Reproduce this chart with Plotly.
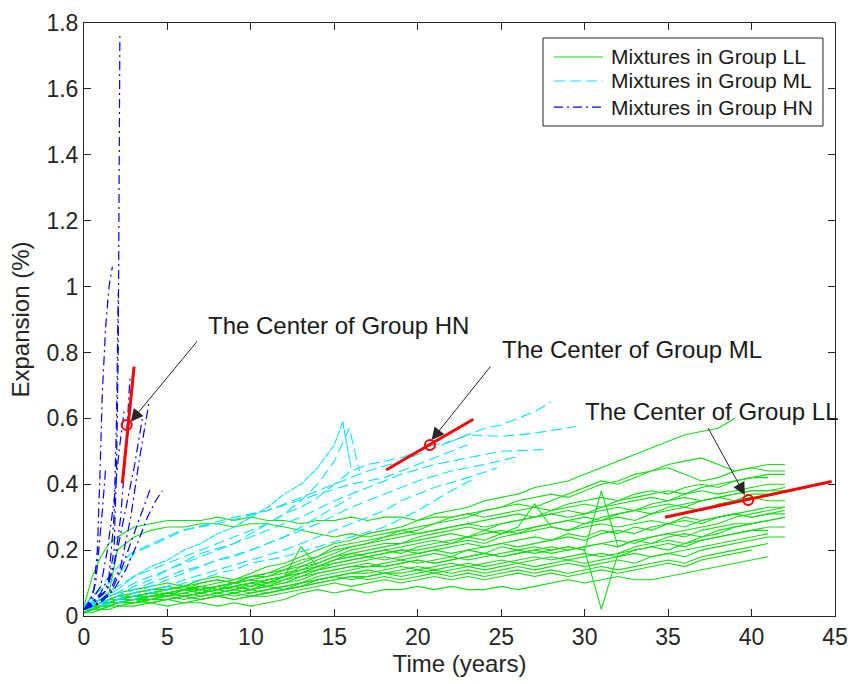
import plotly.graph_objects as go

# ---------------- data ----------------
X_TICKS = [0, 5, 10, 15, 20, 25, 30, 35, 40, 45]
Y_TICKS = [0, 0.2, 0.4, 0.6, 0.8, 1.0, 1.2, 1.4, 1.6, 1.8]
Y_TICK_TEXT = ["0", "0.2", "0.4", "0.6", "0.8", "1", "1.2", "1.4", "1.6", "1.8"]

# Group LL (green, solid) - shared time grid
LL_T = [0, 0.5, 1, 1.5, 2, 3, 4, 5, 6, 7, 8, 9, 10, 11, 12, 13, 14, 15, 16, 17, 18, 19, 20,
        21, 22, 23, 24, 25, 26, 27, 28, 29, 30, 31, 32, 33, 34, 35, 36, 37, 38, 39, 40, 41, 42]

ll_01 = [0.02, 0.04, 0.05, 0.06, 0.07, 0.08, 0.09, 0.10, 0.09, 0.11, 0.12, 0.11, 0.13, 0.15, 0.16,
         0.18, 0.20, 0.22, 0.23, 0.25, 0.26, 0.27, 0.29, 0.31, 0.32, 0.33, 0.35, 0.36, 0.37, 0.39,
         0.40, 0.41, 0.43, 0.45, 0.47, 0.49, 0.51, 0.53, 0.55, 0.56, 0.57, 0.60]
ll_02 = [0.01, 0.03, 0.04, 0.05, 0.05, 0.07, 0.08, 0.09, 0.08, 0.10, 0.11, 0.10, 0.12, 0.13, 0.15,
         0.17, 0.18, 0.21, 0.22, 0.23, 0.24, 0.26, 0.27, 0.28, 0.30, 0.31, 0.32, 0.33, 0.35, 0.36,
         0.37, 0.36, 0.38, 0.40, 0.41, 0.43, 0.44, 0.46, 0.47, 0.48, 0.46, 0.44, 0.45, 0.46, 0.46]
ll_03 = [0.02, 0.03, 0.03, 0.04, 0.05, 0.06, 0.07, 0.07, 0.08, 0.09, 0.10, 0.11, 0.12, 0.12, 0.14,
         0.15, 0.17, 0.19, 0.21, 0.22, 0.24, 0.25, 0.26, 0.28, 0.29, 0.30, 0.32, 0.33, 0.34, 0.33,
         0.35, 0.37, 0.39, 0.41, 0.40, 0.42, 0.44, 0.45, 0.43, 0.41, 0.42, 0.44, 0.45, 0.44, 0.44]
ll_04 = [0.03, 0.12, 0.18, 0.22, 0.24, 0.27, 0.28, 0.29, 0.29, 0.29, 0.30, 0.29, 0.30, 0.29, 0.29,
         0.28, 0.29, 0.29, 0.30, 0.29, 0.30, 0.30, 0.29, 0.30, 0.30, 0.31, 0.30, 0.31, 0.32, 0.33,
         0.32, 0.34, 0.35, 0.36, 0.35, 0.37, 0.38, 0.37, 0.39, 0.40, 0.39, 0.41, 0.42, 0.43, 0.43]
ll_05 = [0.02, 0.04, 0.05, 0.07, 0.20, 0.24, 0.26, 0.27, 0.27, 0.28, 0.28, 0.27, 0.28, 0.28, 0.27,
         0.26, 0.25, 0.24, 0.25, 0.24, 0.25, 0.26, 0.25, 0.26, 0.27, 0.28, 0.27, 0.28, 0.29, 0.30,
         0.31, 0.30, 0.31, 0.32, 0.33, 0.32, 0.34, 0.35, 0.36, 0.35, 0.36, 0.37, 0.38, 0.38, 0.39]
ll_06 = [0.01, 0.02, 0.03, 0.04, 0.05, 0.06, 0.06, 0.07, 0.08, 0.08, 0.09, 0.10, 0.09, 0.11, 0.12,
         0.14, 0.16, 0.18, 0.20, 0.21, 0.22, 0.22, 0.24, 0.25, 0.26, 0.27, 0.26, 0.28, 0.29, 0.30,
         0.31, 0.32, 0.31, 0.33, 0.34, 0.35, 0.36, 0.35, 0.37, 0.38, 0.37, 0.38, 0.39, 0.40, 0.40]
ll_07 = [0.02, 0.02, 0.03, 0.05, 0.05, 0.06, 0.07, 0.06, 0.08, 0.09, 0.08, 0.10, 0.11, 0.10, 0.12,
         0.13, 0.15, 0.17, 0.18, 0.19, 0.20, 0.21, 0.22, 0.23, 0.22, 0.24, 0.25, 0.26, 0.25, 0.27,
         0.28, 0.29, 0.30, 0.29, 0.31, 0.32, 0.33, 0.34, 0.33, 0.35, 0.36, 0.35, 0.37, 0.37]
ll_08 = [0.01, 0.02, 0.03, 0.03, 0.04, 0.05, 0.06, 0.07, 0.06, 0.07, 0.08, 0.09, 0.10, 0.09, 0.11,
         0.12, 0.14, 0.16, 0.17, 0.18, 0.19, 0.20, 0.20, 0.21, 0.22, 0.23, 0.22, 0.24, 0.25, 0.26,
         0.27, 0.26, 0.28, 0.29, 0.30, 0.29, 0.31, 0.32, 0.33, 0.32, 0.34, 0.35, 0.36, 0.35, 0.35]
ll_09 = [0.02, 0.03, 0.04, 0.04, 0.05, 0.06, 0.05, 0.07, 0.08, 0.07, 0.08, 0.09, 0.08, 0.10, 0.11,
         0.13, 0.14, 0.15, 0.16, 0.17, 0.18, 0.17, 0.18, 0.19, 0.18, 0.20, 0.19, 0.21, 0.20, 0.21,
         0.20, 0.21, 0.20, 0.38, 0.21, 0.23, 0.24, 0.25, 0.26, 0.27, 0.28, 0.30, 0.31, 0.32, 0.33]
ll_10 = [0.01, 0.02, 0.03, 0.04, 0.04, 0.05, 0.06, 0.06, 0.07, 0.08, 0.07, 0.08, 0.09, 0.10, 0.10,
         0.11, 0.13, 0.14, 0.15, 0.15, 0.16, 0.17, 0.16, 0.17, 0.18, 0.17, 0.18, 0.19, 0.20, 0.19,
         0.20, 0.21, 0.20, 0.02, 0.19, 0.21, 0.22, 0.23, 0.22, 0.24, 0.25, 0.27, 0.28, 0.29, 0.30]
ll_11 = [0.02, 0.03, 0.03, 0.05, 0.06, 0.06, 0.07, 0.08, 0.09, 0.08, 0.09, 0.10, 0.11, 0.12, 0.13,
         0.14, 0.15, 0.17, 0.19, 0.20, 0.21, 0.22, 0.23, 0.24, 0.25, 0.24, 0.26, 0.25, 0.27, 0.34,
         0.27, 0.26, 0.27, 0.28, 0.27, 0.28, 0.29, 0.28, 0.30, 0.29, 0.30, 0.31, 0.30, 0.31, 0.31]
ll_12 = [0.01, 0.02, 0.02, 0.03, 0.04, 0.04, 0.05, 0.06, 0.05, 0.06, 0.07, 0.06, 0.07, 0.08, 0.09,
         0.10, 0.12, 0.13, 0.14, 0.15, 0.15, 0.16, 0.17, 0.16, 0.17, 0.18, 0.19, 0.18, 0.19, 0.20,
         0.21, 0.20, 0.21, 0.22, 0.23, 0.22, 0.24, 0.25, 0.24, 0.26, 0.27, 0.28, 0.28, 0.29]
ll_13 = [0.02, 0.02, 0.03, 0.03, 0.04, 0.05, 0.05, 0.06, 0.07, 0.06, 0.07, 0.08, 0.07, 0.08, 0.09,
         0.10, 0.11, 0.12, 0.13, 0.13, 0.14, 0.15, 0.14, 0.15, 0.16, 0.15, 0.16, 0.17, 0.16, 0.17,
         0.18, 0.17, 0.18, 0.19, 0.18, 0.20, 0.21, 0.20, 0.22, 0.23, 0.24, 0.25, 0.26, 0.27, 0.27]
ll_14 = [0.01, 0.02, 0.03, 0.03, 0.04, 0.04, 0.05, 0.05, 0.06, 0.07, 0.06, 0.07, 0.08, 0.07, 0.08,
         0.09, 0.10, 0.11, 0.12, 0.12, 0.13, 0.13, 0.14, 0.13, 0.14, 0.15, 0.14, 0.15, 0.16, 0.15,
         0.16, 0.17, 0.16, 0.17, 0.18, 0.19, 0.18, 0.19, 0.20, 0.21, 0.22, 0.23, 0.24, 0.25]
ll_15 = [0.02, 0.03, 0.03, 0.04, 0.05, 0.05, 0.06, 0.07, 0.06, 0.07, 0.08, 0.07, 0.08, 0.09, 0.08,
         0.10, 0.11, 0.12, 0.11, 0.12, 0.13, 0.12, 0.13, 0.14, 0.13, 0.14, 0.13, 0.14, 0.15, 0.14,
         0.15, 0.16, 0.15, 0.16, 0.17, 0.16, 0.18, 0.19, 0.18, 0.20, 0.21, 0.22, 0.23, 0.24, 0.24]
ll_16 = [0.01, 0.02, 0.02, 0.03, 0.03, 0.04, 0.04, 0.05, 0.06, 0.05, 0.06, 0.05, 0.06, 0.07, 0.08,
         0.09, 0.10, 0.11, 0.12, 0.11, 0.12, 0.11, 0.12, 0.13, 0.12, 0.13, 0.12, 0.13, 0.14, 0.13,
         0.14, 0.13, 0.14, 0.15, 0.14, 0.15, 0.16, 0.17, 0.16, 0.18, 0.19, 0.20, 0.21, 0.22]
ll_17 = [0.01, 0.02, 0.03, 0.03, 0.04, 0.04, 0.05, 0.05, 0.04, 0.05, 0.06, 0.05, 0.06, 0.06, 0.07,
         0.08, 0.09, 0.10, 0.09, 0.10, 0.11, 0.10, 0.11, 0.12, 0.11, 0.12, 0.11, 0.12, 0.13, 0.12,
         0.13, 0.12, 0.13, 0.14, 0.13, 0.14, 0.15, 0.16, 0.15, 0.17, 0.18, 0.19, 0.20]
ll_18 = [0.01, 0.01, 0.02, 0.02, 0.03, 0.03, 0.04, 0.03, 0.04, 0.04, 0.03, 0.04, 0.03, 0.04, 0.05,
         0.07, 0.08, 0.07, 0.08, 0.07, 0.08, 0.08, 0.09, 0.08, 0.09, 0.08, 0.08, 0.09, 0.08, 0.09,
         0.10, 0.11, 0.10, 0.11, 0.12, 0.11, 0.11, 0.12, 0.13, 0.14, 0.15, 0.16, 0.17, 0.18]
ll_19 = [0.02, 0.03, 0.04, 0.04, 0.05, 0.06, 0.07, 0.08, 0.09, 0.08, 0.09, 0.10, 0.11, 0.10, 0.12,
         0.15, 0.16, 0.18, 0.19, 0.18, 0.19, 0.20, 0.19, 0.20, 0.21, 0.22, 0.21, 0.22, 0.23, 0.24,
         0.23, 0.25, 0.24, 0.26, 0.25, 0.27, 0.26, 0.28, 0.27, 0.29, 0.30, 0.31, 0.30, 0.31, 0.32]
ll_20 = [0.02, 0.03, 0.04, 0.05, 0.06, 0.07, 0.08, 0.08, 0.09, 0.10, 0.11, 0.10, 0.12, 0.13, 0.14,
         0.16, 0.18, 0.20, 0.21, 0.22, 0.23, 0.24, 0.25, 0.26, 0.27, 0.28, 0.29, 0.30, 0.31, 0.30,
         0.32, 0.33, 0.34, 0.33, 0.35, 0.36, 0.37, 0.38, 0.37, 0.39, 0.40, 0.41, 0.42, 0.42]
ll_21 = [0.01, 0.02, 0.03, 0.04, 0.04, 0.05, 0.06, 0.07, 0.06, 0.07, 0.08, 0.09, 0.08, 0.09, 0.10,
         0.12, 0.13, 0.14, 0.15, 0.16, 0.15, 0.16, 0.17, 0.16, 0.17, 0.18, 0.19, 0.18, 0.19, 0.20,
         0.19, 0.20, 0.21, 0.22, 0.21, 0.23, 0.22, 0.24, 0.25, 0.24, 0.26, 0.27, 0.28, 0.29, 0.30]
ll_22 = [0.02, 0.03, 0.04, 0.05, 0.05, 0.06, 0.07, 0.06, 0.08, 0.09, 0.08, 0.09, 0.10, 0.11, 0.12,
         0.21, 0.15, 0.16, 0.17, 0.18, 0.17, 0.18, 0.19, 0.20, 0.19, 0.20, 0.21, 0.22, 0.21, 0.22,
         0.23, 0.24, 0.23, 0.25, 0.26, 0.25, 0.27, 0.28, 0.29, 0.28, 0.30, 0.31, 0.32, 0.33, 0.33]
ll_23 = [0.02, 0.02, 0.03, 0.04, 0.05, 0.06, 0.06, 0.07, 0.08, 0.07, 0.09, 0.08, 0.10, 0.11, 0.12,
         0.13, 0.15, 0.17, 0.18, 0.19, 0.20, 0.19, 0.21, 0.22, 0.23, 0.24, 0.23, 0.25, 0.26, 0.27,
         0.28, 0.29, 0.28, 0.30, 0.31, 0.32, 0.31, 0.33, 0.34, 0.35, 0.36, 0.37, 0.38, 0.38, 0.38]
ll_24 = [0.01, 0.02, 0.02, 0.03, 0.04, 0.05, 0.04, 0.05, 0.06, 0.05, 0.06, 0.07, 0.06, 0.07, 0.08,
         0.09, 0.11, 0.12, 0.13, 0.14, 0.13, 0.14, 0.15, 0.14, 0.15, 0.16, 0.15, 0.16, 0.17, 0.18,
         0.17, 0.18, 0.19, 0.18, 0.19, 0.20, 0.21, 0.22, 0.21, 0.23, 0.24, 0.25, 0.26, 0.26]

# Group ML (cyan, dashed) - each with own times
ml_01_t = [0, 1, 2, 3, 4, 5, 6, 7, 8, 9, 10, 11, 12, 13, 14, 15, 15.5, 16.0]
ml_01_y = [0.02, 0.05, 0.08, 0.12, 0.15, 0.17, 0.20, 0.22, 0.25, 0.27, 0.30, 0.33, 0.37, 0.40, 0.45, 0.52, 0.59, 0.45]
ml_02_t = [0, 1, 2, 3, 4, 5, 6, 7, 8, 9, 10, 11, 12, 13, 14, 15, 16, 17, 18, 19, 20, 21, 22, 23, 24, 25, 26, 27, 28]
ml_02_y = [0.03, 0.06, 0.09, 0.12, 0.14, 0.16, 0.18, 0.20, 0.22, 0.24, 0.26, 0.28, 0.31, 0.33, 0.36, 0.40, 0.44,
           0.46, 0.47, 0.48, 0.50, 0.52, 0.53, 0.55, 0.57, 0.58, 0.60, 0.62, 0.65]
ml_03_t = [0, 0.5, 1, 2, 3, 6, 9, 11, 13, 15, 17, 19, 21, 23, 25, 27, 29.5]
ml_03_y = [0.03, 0.06, 0.08, 0.12, 0.19, 0.26, 0.30, 0.32, 0.36, 0.40, 0.44, 0.47, 0.51, 0.55, 0.545, 0.555, 0.575]
ml_04_t = [0, 1, 2, 3, 4, 5, 7, 9, 11, 13, 15, 17, 19, 21, 23, 25, 27.5]
ml_04_y = [0.02, 0.04, 0.06, 0.09, 0.11, 0.14, 0.19, 0.22, 0.26, 0.30, 0.35, 0.39, 0.43, 0.46, 0.48, 0.50, 0.505]
ml_05_t = [0, 1, 2, 3, 4, 5, 6, 8, 10, 12, 14, 16, 18, 20, 22, 24, 26]
ml_05_y = [0.02, 0.04, 0.05, 0.07, 0.09, 0.11, 0.13, 0.17, 0.20, 0.24, 0.28, 0.33, 0.37, 0.41, 0.44, 0.46, 0.484]
ml_06_t = [0, 1, 2, 3, 4, 5, 6, 8, 10, 12, 14, 16, 18, 19, 21, 23, 24.75]
ml_06_y = [0.02, 0.03, 0.05, 0.06, 0.08, 0.09, 0.11, 0.14, 0.17, 0.20, 0.24, 0.28, 0.32, 0.35, 0.39, 0.42, 0.449]
ml_07_t = [0, 1, 2, 3, 4, 5, 6, 7, 8, 9, 10, 12, 14, 16, 18, 20, 22, 23.5]
ml_07_y = [0.02, 0.03, 0.04, 0.05, 0.07, 0.08, 0.10, 0.11, 0.13, 0.14, 0.16, 0.18, 0.21, 0.24, 0.27, 0.32, 0.38, 0.42]
ml_08_t = [0, 0.7, 1.5, 2.8, 5.8, 8, 11, 14, 16, 18, 20, 22, 23]
ml_08_y = [0.03, 0.07, 0.12, 0.19, 0.26, 0.28, 0.32, 0.37, 0.40, 0.42, 0.46, 0.50, 0.52]
ml_09_t = [0, 1, 2, 3, 4, 5, 6, 7, 8, 9, 10, 11, 12, 13, 14, 15, 16]
ml_09_y = [0.02, 0.04, 0.06, 0.08, 0.10, 0.12, 0.14, 0.15, 0.17, 0.18, 0.20, 0.22, 0.24, 0.27, 0.30, 0.33, 0.36]
ml_10_t = [0, 1, 2, 3, 4, 5, 6, 7, 8, 9, 10, 11, 12, 13, 14, 15, 15.9, 16.5]
ml_10_y = [0.03, 0.05, 0.07, 0.10, 0.12, 0.14, 0.16, 0.18, 0.20, 0.22, 0.25, 0.28, 0.31, 0.35, 0.40, 0.47, 0.57, 0.44]

# Group HN (blue, dash-dot)
hn_01_t = [0, 0.4, 0.9, 1.4, 1.8, 1.95, 2.05, 2.1, 2.15]
hn_01_y = [0.02, 0.04, 0.06, 0.08, 0.20, 0.45, 0.80, 1.30, 1.76]
hn_02_t = [0, 0.3, 0.6, 0.8, 0.95, 1.1, 1.3, 1.5, 1.7]
hn_02_y = [0.02, 0.04, 0.08, 0.20, 0.42, 0.68, 0.88, 1.00, 1.06]
hn_03_t = [0, 0.5, 1.0, 1.5, 1.8, 1.95, 2.05]
hn_03_y = [0.02, 0.04, 0.07, 0.12, 0.30, 0.60, 0.98]
hn_04_t = [0, 0.6, 1.2, 1.8, 2.2, 2.5, 2.75]
hn_04_y = [0.02, 0.04, 0.07, 0.15, 0.30, 0.50, 0.72]
hn_05_t = [0, 0.8, 1.5, 2.2, 2.8, 3.3, 3.9]
hn_05_y = [0.02, 0.04, 0.07, 0.15, 0.30, 0.47, 0.65]
hn_06_t = [0, 0.7, 1.4, 2.0, 2.6, 3.0, 3.5]
hn_06_y = [0.02, 0.05, 0.08, 0.20, 0.35, 0.45, 0.60]
hn_07_t = [0, 1.0, 1.8, 2.5, 3.2, 3.8, 4.3, 4.7]
hn_07_y = [0.02, 0.04, 0.08, 0.14, 0.22, 0.30, 0.35, 0.38]
hn_08_t = [0, 0.9, 1.6, 2.3, 3.0, 3.5, 4.0]
hn_08_y = [0.02, 0.04, 0.07, 0.15, 0.25, 0.32, 0.39]
hn_09_t = [0, 0.4, 0.7, 0.9, 1.1, 1.3]
hn_09_y = [0.02, 0.05, 0.10, 0.20, 0.32, 0.45]
hn_10_t = [0, 0.5, 1.0, 1.4, 1.8, 2.1, 2.4]
hn_10_y = [0.02, 0.05, 0.09, 0.20, 0.35, 0.50, 0.62]

# Group centres (red)
CENTER_X = [2.56, 20.73, 39.8]
CENTER_Y = [0.58, 0.519, 0.352]
HN_SEG_X = [2.3, 3.0]
HN_SEG_Y = [0.403, 0.757]
ML_SEG_X = [18.1, 23.33]
ML_SEG_Y = [0.443, 0.597]
LL_SEG_X = [34.81, 44.8]
LL_SEG_Y = [0.30, 0.408]

LEGEND_NAMES = ["Mixtures in Group LL", "Mixtures in Group ML", "Mixtures in Group HN"]
LABELS = ["The Center of Group HN", "The Center of Group ML", "The Center of Group LL"]
LABEL_X = [7.3, 24.9, 29.9]
LABEL_Y = [0.883, 0.8075, 0.62]
ARROW_TAIL_X = [6.85, 24.43, 37.35]
ARROW_TAIL_Y = [0.838, 0.762, 0.575]
ARROW_HEAD_X = [2.8, 20.83, 39.6]
ARROW_HEAD_Y = [0.59, 0.534, 0.367]

# ---------------- figure ----------------
GREEN = "#10e010"
CYAN = "#00e5ff"
BLUE = "#0000ff"
INK = "#262626"
FONT = "Liberation Sans, Arial, sans-serif"
ML_DASH = "11px,5px"
HN_DASH = "9px,4px,2px,4px"

LL_LINES = [ll_01, ll_02, ll_03, ll_04, ll_05, ll_06, ll_07, ll_08, ll_09, ll_10, ll_11, ll_12,
            ll_13, ll_14, ll_15, ll_16, ll_17, ll_18, ll_19, ll_20, ll_21, ll_22, ll_23, ll_24]
ML_LINES = [(ml_01_t, ml_01_y), (ml_02_t, ml_02_y), (ml_03_t, ml_03_y), (ml_04_t, ml_04_y),
            (ml_05_t, ml_05_y), (ml_06_t, ml_06_y), (ml_07_t, ml_07_y), (ml_08_t, ml_08_y),
            (ml_09_t, ml_09_y), (ml_10_t, ml_10_y)]
HN_LINES = [(hn_01_t, hn_01_y), (hn_02_t, hn_02_y), (hn_03_t, hn_03_y), (hn_04_t, hn_04_y),
            (hn_05_t, hn_05_y), (hn_06_t, hn_06_y), (hn_07_t, hn_07_y), (hn_08_t, hn_08_y),
            (hn_09_t, hn_09_y), (hn_10_t, hn_10_y)]

fig = go.Figure()

for i, vals in enumerate(LL_LINES):
    fig.add_trace(go.Scatter(
        x=LL_T[:len(vals)], y=vals, mode="lines",
        line=dict(color=GREEN, width=1.1),
        name=LEGEND_NAMES[0], legendgroup="LL", showlegend=False))

for i, (t, v) in enumerate(ML_LINES):
    dash = "7px,1px" if i == 0 else ML_DASH
    fig.add_trace(go.Scatter(
        x=t, y=v, mode="lines",
        line=dict(color=CYAN, width=1.1, dash=dash),
        name=LEGEND_NAMES[1], legendgroup="ML", showlegend=False))

for i, (t, v) in enumerate(HN_LINES):
    fig.add_trace(go.Scatter(
        x=t, y=v, mode="lines",
        line=dict(color=BLUE, width=1.2, dash=HN_DASH),
        name=LEGEND_NAMES[2], legendgroup="HN", showlegend=False))

for sx, sy in [(HN_SEG_X, HN_SEG_Y), (ML_SEG_X, ML_SEG_Y), (LL_SEG_X, LL_SEG_Y)]:
    fig.add_trace(go.Scatter(x=sx, y=sy, mode="lines",
                             line=dict(color="#ff0000", width=3), showlegend=False))
fig.add_trace(go.Scatter(x=CENTER_X, y=CENTER_Y, mode="markers",
                         marker=dict(symbol="circle-open", size=10, color="#ff0000",
                                     line=dict(width=2, color="#ff0000")),
                         showlegend=False))

annotations = []
for i in range(3):
    annotations.append(dict(
        x=ARROW_HEAD_X[i], y=ARROW_HEAD_Y[i], ax=ARROW_TAIL_X[i], ay=ARROW_TAIL_Y[i],
        xref="x", yref="y", axref="x", ayref="y", text="", showarrow=True,
        arrowhead=2, arrowsize=2.5, arrowwidth=1, arrowcolor=INK, standoff=0, startstandoff=0))
    annotations.append(dict(
        x=LABEL_X[i], y=LABEL_Y[i], xref="x", yref="y", text=LABELS[i], showarrow=False,
        xanchor="left", yanchor="middle", font=dict(family=FONT, size=24, color="#1a1a1a")))

# legend drawn as box + sample lines + text (paper coords of the plot area)
LEG_BOX = (0.6112, 0.8263, 0.984, 0.9747)
LEG_ROWS_Y = [0.9427, 0.9022, 0.8583]
LEG_LINE_X = (0.6258, 0.6911)
LEG_TEXT_X = 0.699
shapes = [dict(type="rect", xref="paper", yref="paper",
               x0=LEG_BOX[0], y0=LEG_BOX[1], x1=LEG_BOX[2], y1=LEG_BOX[3],
               line=dict(color=INK, width=1), fillcolor="white", layer="above")]
leg_styles = [(GREEN, "solid"), (CYAN, ML_DASH), (BLUE, HN_DASH)]
for (col, dsh), yy, name in zip(leg_styles, LEG_ROWS_Y, LEGEND_NAMES):
    shapes.append(dict(type="line", xref="paper", yref="paper",
                       x0=LEG_LINE_X[0], x1=LEG_LINE_X[1], y0=yy, y1=yy,
                       line=dict(color=col, width=1.2, dash=dsh), layer="above"))
    annotations.append(dict(x=LEG_TEXT_X, y=yy, xref="paper", yref="paper", text=name,
                            showarrow=False, xanchor="left", yanchor="middle",
                            font=dict(family=FONT, size=21, color="#1a1a1a")))

axis_common = dict(showline=True, linecolor=INK, linewidth=1, mirror="ticks",
                   ticks="inside", ticklen=7, tickcolor=INK, tickwidth=1,
                   showgrid=False, zeroline=False, automargin=False,
                   tickfont=dict(family=FONT, size=23, color=INK))

fig.update_layout(
    width=852, height=684,
    margin=dict(l=84, r=17, t=23, b=68),
    plot_bgcolor="white", paper_bgcolor="white",
    font=dict(family=FONT, size=23, color=INK),
    xaxis=dict(range=[0, 45], tickvals=X_TICKS,
               title=dict(text="Time (years)", font=dict(family=FONT, size=24, color=INK), standoff=6),
               **axis_common),
    yaxis=dict(range=[0, 1.8], tickvals=Y_TICKS, ticktext=Y_TICK_TEXT,
               title=dict(text="Expansion (%)", font=dict(family=FONT, size=24, color=INK), standoff=10),
               **axis_common),
    annotations=annotations,
    shapes=shapes,
    showlegend=False,
)

fig.write_html("out.html",
               config={"displayModeBar": False},
               post_script="document.body.style.margin='0';document.body.style.overflow='hidden';")
